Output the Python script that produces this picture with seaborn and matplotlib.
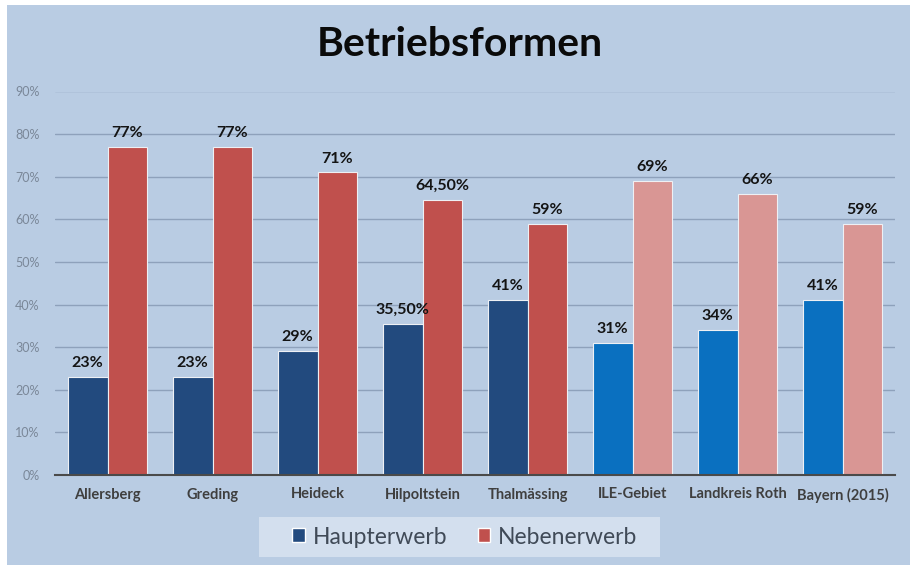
import matplotlib
matplotlib.use("Agg")
import matplotlib.pyplot as plt
import matplotlib.patches as mpatches
import seaborn as sns
import pandas as pd
import numpy as np

regions = ["Allersberg", "Greding", "Heideck", "Hilpoltstein", "Thalmässing",
           "ILE-Gebiet", "Landkreis Roth", "Bayern (2015)"]
haupterwerb = [23, 23, 29, 35.5, 41, 31, 34, 41]
nebenerwerb = [77, 77, 71, 64.5, 59, 69, 66, 59]
series = ["Haupterwerb", "Nebenerwerb"]
yticks = [0, 10, 20, 30, 40, 50, 60, 70, 80, 90]

blue_dark, red_dark = "#224a7e", "#c0504d"
blue_light, red_light = "#0a70c0", "#d99694"
haupt_colors = [blue_dark] * 5 + [blue_light] * 3
neben_colors = [red_dark] * 5 + [red_light] * 3
bg = "#b9cce3"

sns.set_style("white")
plt.rcParams["font.family"] = ["Lato", "DejaVu Sans"]

df = pd.DataFrame({
    "Region": regions * 2,
    "Betriebsform": [series[0]] * len(regions) + [series[1]] * len(regions),
    "Anteil": [v / 100 for v in haupterwerb] + [v / 100 for v in nebenerwerb],
})

fig = plt.figure(figsize=(9.10, 5.65), dpi=100, facecolor="white")
fig.patches.append(mpatches.Rectangle((7 / 910, 0), 1, 1 - 5 / 565,
                                      transform=fig.transFigure, facecolor=bg,
                                      edgecolor="none", zorder=-10))
# legend box
fig.patches.append(mpatches.Rectangle((259 / 910, 1 - 557 / 565), 401 / 910, 40 / 565,
                                      transform=fig.transFigure, facecolor="#d3dfee",
                                      edgecolor="none", zorder=-5))
ax = fig.add_axes([55 / 910, 1 - 475 / 565, 840 / 910, (475 - 91.5) / 565])
ax.set_facecolor("none")

sns.barplot(data=df, x="Region", y="Anteil", hue="Betriebsform",
            palette=[blue_dark, red_dark], width=0.76, ax=ax, legend=False,
            edgecolor="#eef0f4", linewidth=0.8, saturation=1)

def fmt(v):
    if float(v).is_integer():
        return f"{int(v)}%"
    return f"{v:.2f}".replace(".", ",") + "%"

for cont, cols, vals in zip(ax.containers, [haupt_colors, neben_colors],
                            [haupterwerb, nebenerwerb]):
    for bar, c in zip(cont, cols):
        bar.set_facecolor(c)
        bar.set_zorder(3)
    ax.bar_label(cont, labels=[fmt(v) for v in vals], padding=5,
                 fontsize=11.5, fontweight="bold", color="#141414")

ax.set_ylim(0, 0.9)
ax.set_xlim(-0.5, len(regions) - 0.5)
ax.set_yticks([t / 100 for t in yticks])
ax.set_yticklabels([f"{t}%" for t in yticks])
ax.tick_params(axis="y", length=0, pad=11, labelsize=9, labelcolor="#7a8798")
ax.tick_params(axis="x", which="major", length=0, pad=9, labelsize=10.5,
               labelcolor="#3f3f3f")
for lab in ax.get_xticklabels():
    lab.set_fontweight("bold")
ax.set_xticks(np.arange(-0.5, len(regions)), minor=True)
ax.tick_params(axis="x", which="minor", length=5, width=1.5, color="#4a4a4a",
               direction="out")
ax.yaxis.grid(True, color="#8ea1bb", linewidth=1)
ax.set_axisbelow(True)
for s in ["top", "right", "left"]:
    ax.spines[s].set_visible(False)
ax.spines["bottom"].set_color("#4a4a4a")
ax.spines["bottom"].set_linewidth(1.5)
ax.spines["bottom"].set_zorder(5)
ax.set_xlabel("")
ax.set_ylabel("")

fig.text(460 / 910, 1 - 45 / 565, "Betriebsformen", ha="center", va="center",
         fontsize=29.5, fontweight="bold", color="#0a0a0a")

handles = [mpatches.Patch(facecolor=blue_dark, label=series[0]),
           mpatches.Patch(facecolor=red_dark, label=series[1])]
leg = fig.legend(handles=handles, loc="center", ncol=2,
                 bbox_to_anchor=(465 / 910, 1 - 537 / 565), frameon=False,
                 fontsize=16.5, handlelength=0.55, handleheight=0.55,
                 handletextpad=0.36, columnspacing=1.3, borderpad=0.3)
for t in leg.get_texts():
    t.set_color("#404a57")

fig.savefig("out.png", dpi=100, facecolor="white")
